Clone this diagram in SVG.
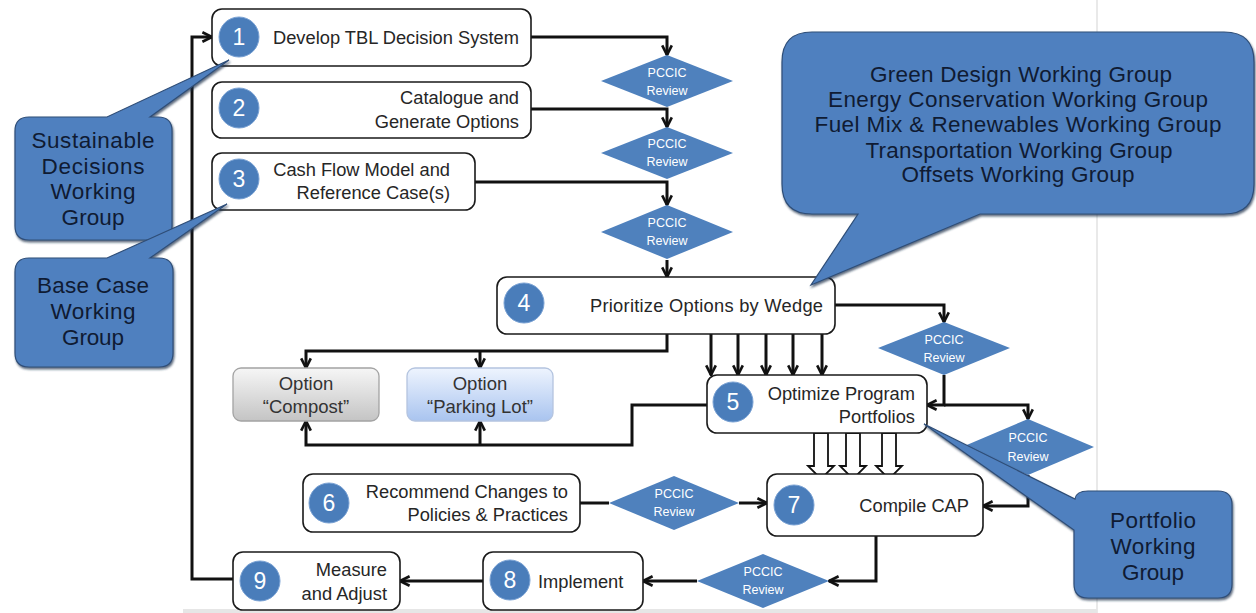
<svg xmlns="http://www.w3.org/2000/svg" width="1256" height="613" viewBox="0 0 1256 613">
<defs>
<marker id="arr" viewBox="0 0 10 10" refX="9" refY="5" markerWidth="12" markerHeight="12" markerUnits="userSpaceOnUse" orient="auto">
<path d="M1,1 L9,5 L1,9" fill="none" stroke="#111" stroke-width="2.2"/>
</marker>
<linearGradient id="gGray" x1="0" y1="0" x2="0" y2="1">
<stop offset="0" stop-color="#f6f6f6"/><stop offset="1" stop-color="#c4c4c4"/>
</linearGradient>
<linearGradient id="gBlue" x1="0" y1="0" x2="0" y2="1">
<stop offset="0" stop-color="#eef4fe"/><stop offset="1" stop-color="#a9c4ef"/>
</linearGradient>
<filter id="sh" x="-10%" y="-10%" width="120%" height="125%">
<feDropShadow dx="1" dy="2" stdDeviation="1" flood-color="#1c2f4a" flood-opacity="0.7"/>
</filter>
<style>
.c{fill:none;stroke:#111;stroke-width:3}
.a{marker-end:url(#arr)}
.hollow{fill:#fff;stroke:#111;stroke-width:1.8}
.box{fill:#fff;stroke:#1a1a1a;stroke-width:1.6}
.num{fill:#4a7dba;stroke:#7aa2d4;stroke-width:1}
.nt{font-family:"Liberation Sans",Arial,sans-serif;font-size:23px;fill:#fff;text-anchor:middle}
.t{font-family:"Liberation Sans",Arial,sans-serif;font-size:18.3px;fill:#262626}
.e{text-anchor:end}
.dia{fill:#4f81bd}
.dt{font-family:"Liberation Sans",Arial,sans-serif;font-size:12.5px;fill:#fff;text-anchor:middle}
.call{fill:#5080bf;stroke:#2f4e78;stroke-width:1.2;filter:url(#sh)}
.ct{font-family:"Liberation Sans",Arial,sans-serif;font-size:22.5px;fill:#0f1b33;text-anchor:middle}
.opt{font-family:"Liberation Sans",Arial,sans-serif;font-size:18.5px;fill:#333;text-anchor:middle}
</style>
</defs>
<rect width="1256" height="613" fill="#fff"/>
<line x1="1097" y1="0" x2="1097" y2="613" stroke="#e2e2e2" stroke-width="1.5"/>
<rect x="183" y="609" width="914" height="4" fill="#e6e6e6"/>

<g id="connectors">
<path class="c a" d="M233 579 H192 V37 H212"/>
<path class="c a" d="M531 37 H667 V55"/>
<path class="c a" d="M531 109 H667 V127"/>
<path class="c a" d="M475 182 H667 V205"/>
<path class="c a" d="M667 260 V277"/>
<path class="c a" d="M667 334 V351 H306 V368"/>
<path class="c a" d="M480 351 V368"/>
<path class="c a" d="M711 334 V375"/>
<path class="c a" d="M738 334 V375"/>
<path class="c a" d="M766 334 V375"/>
<path class="c a" d="M793 334 V375"/>
<path class="c a" d="M822 334 V375"/>
<path class="c a" d="M835 305 H944 V322"/>
<path class="c a" d="M944 375 V405 H927"/>
<path class="c a" d="M944 405 H1028 V419"/>
<path class="c a" d="M1028 475 V506 H983"/>
<path class="c a" d="M707 405 H632 V445 H306 V421"/>
<path class="c a" d="M480 445 V421"/>
<polygon class="hollow" points="814,433 814,466 808,466 821,479 834,466 828,466 828,433"/>
<polygon class="hollow" points="846,433 846,466 840,466 853,479 866,466 860,466 860,433"/>
<polygon class="hollow" points="882,433 882,466 876,466 889,479 902,466 896,466 896,433"/>
<path class="c" d="M580 503 H609"/>
<path class="c a" d="M739 503 H767"/>
<path class="c a" d="M876 536 V581 H829"/>
<path class="c a" d="M697 581 H643"/>
<path class="c a" d="M483 581 H400"/>
</g>

<g id="node1"><rect class="box" x="212" y="9" width="319" height="57" rx="10"/><circle class="num" cx="239" cy="37" r="20"/><text class="nt" x="239" y="45">1</text><text class="t" x="273" y="44">Develop TBL Decision System</text></g>
<g id="node2"><rect class="box" x="212" y="82" width="319" height="56" rx="10"/><circle class="num" cx="239" cy="108" r="20"/><text class="nt" x="239" y="116">2</text><text class="t e" x="519" y="104">Catalogue and</text><text class="t e" x="519" y="128">Generate Options</text></g>
<g id="node3"><rect class="box" x="212" y="153" width="263" height="57" rx="10"/><circle class="num" cx="239" cy="179" r="20"/><text class="nt" x="239" y="187">3</text><text class="t e" x="450" y="176">Cash Flow Model and</text><text class="t e" x="450" y="199">Reference Case(s)</text></g>

<g id="review1"><polygon class="dia" points="667,55 733,81 667,107 601,81"/><text class="dt" x="667" y="77">PCCIC</text><text class="dt" x="667" y="95">Review</text></g>
<g id="review2"><polygon class="dia" points="667,127 733,153 667,179 601,153"/><text class="dt" x="667" y="148">PCCIC</text><text class="dt" x="667" y="166">Review</text></g>
<g id="review3"><polygon class="dia" points="667,205 733,232 667,259 601,232"/><text class="dt" x="667" y="227">PCCIC</text><text class="dt" x="667" y="245">Review</text></g>

<g id="node4"><rect class="box" x="497" y="277" width="338" height="57" rx="10"/><circle class="num" cx="524" cy="303" r="20"/><text class="nt" x="524" y="311">4</text><text class="t e" x="823" y="312" textLength="233">Prioritize Options by Wedge</text></g>

<g id="review4"><polygon class="dia" points="944,322 1010,348 944,375 878,348"/><text class="dt" x="944" y="344">PCCIC</text><text class="dt" x="944" y="362">Review</text></g>

<g id="optCompost"><rect x="233" y="368" width="146" height="53" rx="8" fill="url(#gGray)" stroke="#a3a3a3" stroke-width="1.3"/><text class="opt" x="306" y="390">Option</text><text class="opt" x="306" y="413">“Compost”</text></g>
<g id="optParking"><rect x="407" y="368" width="146" height="53" rx="8" fill="url(#gBlue)" stroke="#b4c4df" stroke-width="1.3"/><text class="opt" x="480" y="390">Option</text><text class="opt" x="480" y="413">“Parking Lot”</text></g>

<g id="node5"><rect class="box" x="707" y="375" width="220" height="58" rx="10"/><circle class="num" cx="733" cy="402" r="20"/><text class="nt" x="733" y="410">5</text><text class="t e" x="915" y="400">Optimize Program</text><text class="t e" x="915" y="423">Portfolios</text></g>

<g id="review5"><polygon class="dia" points="1028,419 1094,447 1028,475 962,447"/><text class="dt" x="1028" y="442">PCCIC</text><text class="dt" x="1028" y="461">Review</text></g>

<g id="node6"><rect class="box" x="303" y="474" width="277" height="58" rx="10"/><circle class="num" cx="329" cy="503" r="20"/><text class="nt" x="329" y="511">6</text><text class="t e" x="568" y="498">Recommend Changes to</text><text class="t e" x="568" y="521">Policies &amp; Practices</text></g>

<g id="review6"><polygon class="dia" points="674,476 739,503 674,530 609,503"/><text class="dt" x="674" y="498">PCCIC</text><text class="dt" x="674" y="516">Review</text></g>

<g id="node7"><rect class="box" x="767" y="474" width="216" height="62" rx="10"/><circle class="num" cx="794" cy="505" r="20"/><text class="nt" x="794" y="513">7</text><text class="t e" x="969" y="512">Compile CAP</text></g>

<g id="review7"><polygon class="dia" points="763,554 829,581 763,608 697,581"/><text class="dt" x="763" y="576">PCCIC</text><text class="dt" x="763" y="594">Review</text></g>

<g id="node8"><rect class="box" x="483" y="552" width="160" height="58" rx="10"/><circle class="num" cx="510" cy="580" r="20"/><text class="nt" x="510" y="588">8</text><text class="t" x="538" y="588">Implement</text></g>
<g id="node9"><rect class="box" x="233" y="552" width="167" height="58" rx="10"/><circle class="num" cx="260" cy="581" r="20"/><text class="nt" x="260" y="589">9</text><text class="t e" x="387" y="576">Measure</text><text class="t e" x="387" y="600">and Adjust</text></g>

<g id="callout-sustainable"><path class="call" d="M29 117 H107 L229 60 L150 117 H158 Q172 117 172 131 V226 Q172 240 158 240 H29 Q15 240 15 226 V131 Q15 117 29 117 Z"/><text class="ct" x="93" y="148" textLength="123">Sustainable</text><text class="ct" x="93" y="174" textLength="103">Decisions</text><text class="ct" x="93" y="199" textLength="85">Working</text><text class="ct" x="93" y="225" textLength="63">Group</text></g>
<g id="callout-basecase"><path class="call" d="M29 258 H107 L227 204 L150 258 H159 Q173 258 173 272 V353 Q173 367 159 367 H29 Q15 367 15 353 V272 Q15 258 29 258 Z"/><text class="ct" x="93" y="293" textLength="112">Base Case</text><text class="ct" x="93" y="319" textLength="85">Working</text><text class="ct" x="93" y="345" textLength="62">Group</text></g>
<g id="callout-groups"><path class="call" d="M812 32 H1224 Q1254 32 1254 62 V184 Q1254 214 1224 214 H980 L811 285 L858 214 H812 Q782 214 782 184 V62 Q782 32 812 32 Z"/><text class="ct" x="1021" y="82" textLength="302">Green Design Working Group</text><text class="ct" x="1018" y="107" textLength="380">Energy Conservation Working Group</text><text class="ct" x="1018" y="132" textLength="407">Fuel Mix &amp; Renewables Working Group</text><text class="ct" x="1019" y="158" textLength="307">Transportation Working Group</text><text class="ct" x="1018" y="182" textLength="233">Offsets Working Group</text></g>
<g id="callout-portfolio"><path class="call" d="M1088 491 H1218 Q1232 491 1232 505 V584 Q1232 598 1218 598 H1088 Q1074 598 1074 584 V530 L924 424 L1075 499 Q1076 491 1088 491 Z"/><text class="ct" x="1153" y="528" textLength="86">Portfolio</text><text class="ct" x="1153" y="554" textLength="85">Working</text><text class="ct" x="1153" y="580" textLength="62">Group</text></g>
</svg>
